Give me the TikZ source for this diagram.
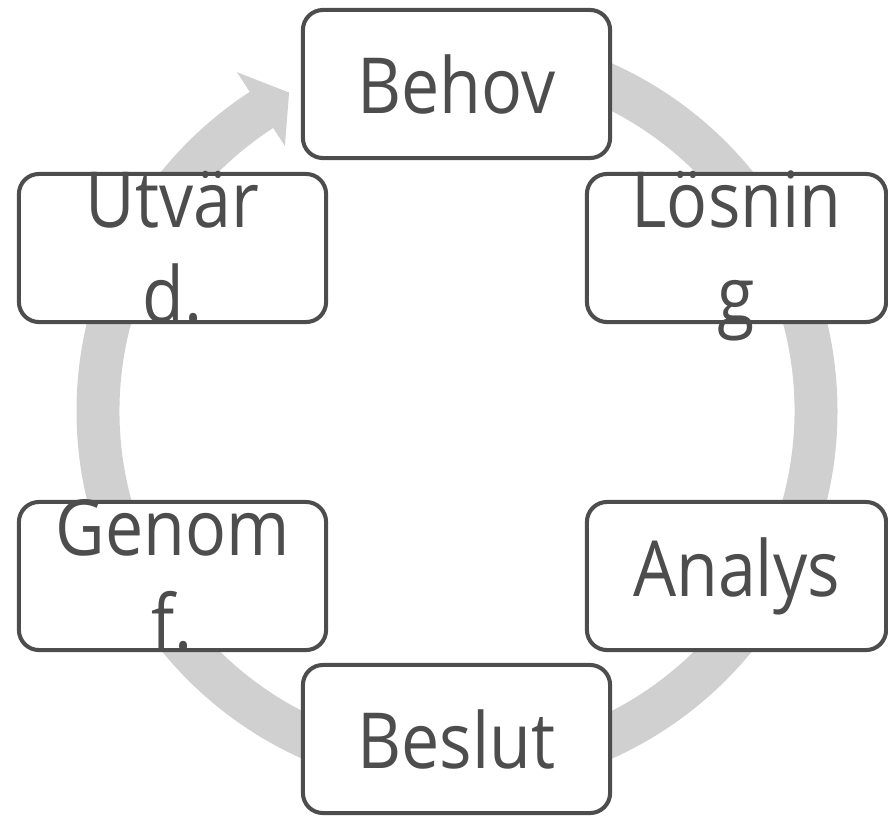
\documentclass[tikz,border=0pt]{standalone}
\usepackage{fontspec}
\setmainfont[FakeStretch=0.88]{Open Sans}
\definecolor{boxgray}{HTML}{4D4D4D}
\definecolor{ringgray}{HTML}{D0D0D0}
% two lines that run over the box without making it taller
\newcommand{\splitlabel}[2]{\smash{\raisebox{5.7pt}{\begin{tabular}[t]{@{}c@{}}#1\\#2\end{tabular}}}}
\begin{document}
\begin{tikzpicture}[x=0.01cm,y=0.01cm,
  stage/.style={draw=boxgray, line width=1.15pt, rounded corners=5.7pt, fill=white,
    text=boxgray, minimum width=3.07cm, minimum height=1.48cm, inner sep=0pt,
    align=center, font=\fontsize{22}{27}\selectfont}]
\useasboundingbox (0,0) rectangle (888,817);
% ring with one arrow head
\fill[ringgray, shift={(457,406)}] (90:380.5) arc[start angle=90, end angle=-237, radius=380.5]
  -- (123:404) -- (117.8:360) -- (123:316) -- (123:337.5)
  arc[start angle=123, end angle=450, radius=337.5] -- cycle;
\node[stage] (behov) at (456.5,733) {Behov};
\node[stage, minimum width=2.99cm] (losning) at (736.5,569) {\splitlabel{Lösnin}{g}};
\node[stage, minimum width=2.99cm] (analys) at (736.5,241) {Analys};
\node[stage] (beslut) at (456.5,78) {Beslut};
\node[stage] (genomf) at (172.5,241) {\splitlabel{Genom}{f.}};
\node[stage] (utvard) at (172.5,569) {\splitlabel{Utvär}{d.}};
\end{tikzpicture}
\end{document}
